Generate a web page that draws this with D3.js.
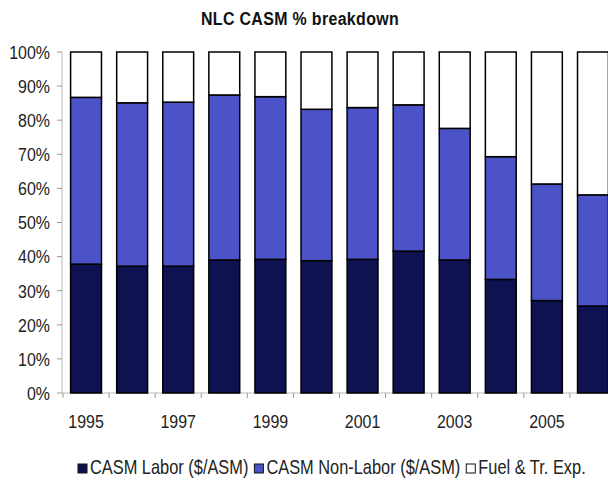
<!DOCTYPE html>
<html>
<head>
<meta charset="utf-8">
<script src="https://cdn.jsdelivr.net/npm/d3@7"></script>
<style>
  body { margin: 0; background: #fff; }
  text { font-family: "Liberation Sans", Arial, sans-serif; fill: #222; }
</style>
</head>
<body>
<div class="chart"></div>
<script>
// data (% of total CASM)
const years = [1995, 1996, 1997, 1998, 1999, 2000, 2001, 2002, 2003, 2004, 2005, 2006];
const labor = [37.8, 37.2, 37.2, 39.0, 39.2, 38.8, 39.2, 41.6, 39.0, 33.3, 27.1, 25.5];
const nonLabor = [48.9, 47.9, 48.1, 48.4, 47.7, 44.4, 44.5, 42.9, 38.6, 36.0, 34.2, 32.6];
const fuel = [13.3, 14.9, 14.7, 12.6, 13.1, 16.8, 16.3, 15.5, 22.4, 30.7, 38.7, 41.9];
const seriesNames = ["CASM Labor ($/ASM)", "CASM Non-Labor ($/ASM)", "Fuel & Tr. Exp."];
const yTicks = [0, 10, 20, 30, 40, 50, 60, 70, 80, 90, 100];
const xLabels = [1995, 1997, 1999, 2001, 2003, 2005];

const colors = ["#0e1250", "#4c53c8", "#ffffff"];
const width = 608, height = 495;
const margin = { top: 52, right: -8, bottom: 102, left: 63 };
const sx = 0.84; // narrow-ish font look

const svg = d3.select(".chart")
    .append("svg")
    .attr("width", width)
    .attr("height", height);

const table = years.map((y, i) => ({ year: y, labor: labor[i], nonLabor: nonLabor[i], fuel: fuel[i] }));
const stack = d3.stack().keys(["labor", "nonLabor", "fuel"]);
const layers = stack(table);

const x = d3.scaleBand()
    .domain(years)
    .range([margin.left, width - margin.right])
    .paddingInner(0.33)
    .paddingOuter(0.165);

const y = d3.scaleLinear()
    .domain([0, 100])
    .range([height - margin.bottom, margin.top]);

// title
svg.append("text")
    .attr("transform", `translate(300,25) scale(${sx},1)`)
    .attr("text-anchor", "middle")
    .style("font-size", "19px")
    .style("font-weight", "bold")
    .style("letter-spacing", "0.4px")
    .style("fill", "#111")
    .text("NLC CASM % breakdown");

// y axis
const yAxis = svg.append("g");
yAxis.append("line")
    .attr("x1", margin.left - 1).attr("x2", margin.left - 1)
    .attr("y1", y(100)).attr("y2", y(0))
    .attr("stroke", "#bbb");
yAxis.selectAll(".ytick")
    .data(yTicks)
    .join("line")
    .attr("x1", margin.left - 6).attr("x2", margin.left - 1)
    .attr("y1", d => y(d)).attr("y2", d => y(d))
    .attr("stroke", "#999");
yAxis.selectAll(".ylab")
    .data(yTicks)
    .join("text")
    .attr("transform", d => `translate(50,${y(d)}) scale(${sx},1)`)
    .attr("text-anchor", "end")
    .attr("dy", "0.36em")
    .style("font-size", "19px")
    .text(d => d + "%");

// x axis
const step = x.step();
const xAxis = svg.append("g");
xAxis.append("line")
    .attr("x1", margin.left - 1).attr("x2", width)
    .attr("y1", y(0)).attr("y2", y(0))
    .attr("stroke", "#bbb");
xAxis.selectAll(".xtick")
    .data(years)
    .join("line")
    .attr("x1", d => x(d) - step * x.paddingInner() / 2)
    .attr("x2", d => x(d) - step * x.paddingInner() / 2)
    .attr("y1", y(0)).attr("y2", y(0) + 5)
    .attr("stroke", "#999");
xAxis.selectAll(".xlab")
    .data(xLabels)
    .join("text")
    .attr("transform", d => `translate(${x(d) + x.bandwidth() / 2},${y(0) + 35}) scale(${sx},1)`)
    .attr("text-anchor", "middle")
    .style("font-size", "19px")
    .text(d => d);

// bars
svg.append("g")
    .selectAll("g")
    .data(layers)
    .join("g")
    .attr("fill", (d, i) => colors[i])
    .selectAll("rect")
    .data(d => d)
    .join("rect")
    .attr("x", d => x(d.data.year))
    .attr("y", d => y(d[1]))
    .attr("width", x.bandwidth())
    .attr("height", d => y(d[0]) - y(d[1]))
    .attr("stroke", "#000")
    .attr("stroke-width", 1.5);

// legend
const legend = svg.append("g");
const lsx = 0.82;
let lx = 78;
seriesNames.forEach((name, i) => {
    legend.append("rect")
        .attr("x", lx).attr("y", 464)
        .attr("width", 9).attr("height", 9)
        .attr("fill", colors[i])
        .attr("stroke", "#111")
        .attr("stroke-width", 1);
    const t = legend.append("text")
        .attr("transform", `translate(${lx + 12},474) scale(${lsx},1)`)
        .style("font-size", "20px")
        .text(name);
    lx += 12 + t.node().getComputedTextLength() * lsx + 6;
});
</script>
</body>
</html>
